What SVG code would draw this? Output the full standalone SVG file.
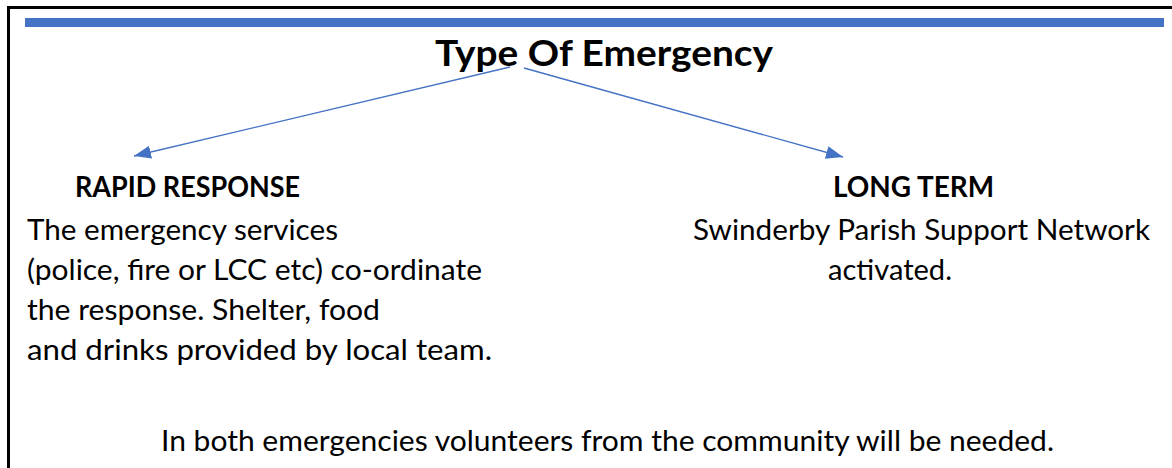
<svg xmlns="http://www.w3.org/2000/svg" width="1172" height="468" viewBox="0 0 1172 468">
  <style>
    .t { font-family: Lato, "Open Sans", "Liberation Sans", sans-serif; fill: #000; }
    .b { font-weight: bold; }
    .body { font-size: 29px; }
    .head { font-size: 29px; }
    .title { font-size: 37px; }
    .conn { stroke: #4472C4; stroke-width: 1.3; fill: none; marker-end: url(#ah); }
  </style>
  <defs>
    <marker id="ah" markerUnits="userSpaceOnUse" markerWidth="18" markerHeight="14" refX="17" refY="6.5" orient="auto">
      <path d="M0,0 L17,6.5 L0,13 z" fill="#4472C4"/>
    </marker>
  </defs>
  <rect width="1172" height="468" fill="#fff"/>
  <path d="M8.5,468 V7.5 H1172" fill="none" stroke="#000" stroke-width="3"/>
  <rect x="25" y="18" width="1139" height="9" fill="#4472C4"/>

  <g id="title">
    <text class="t b title" x="435" y="66" textLength="338" lengthAdjust="spacingAndGlyphs">Type Of Emergency</text>
  </g>

  <g id="connectors">
    <line class="conn" x1="510" y1="67" x2="134" y2="156"/>
    <line class="conn" x1="524" y1="68" x2="843" y2="157"/>
  </g>

  <g id="rapid-response">
    <text class="t b head" x="75" y="197" textLength="225" lengthAdjust="spacingAndGlyphs">RAPID RESPONSE</text>
    <text class="t body" x="27" y="240" textLength="311" lengthAdjust="spacingAndGlyphs">The emergency services</text>
    <text class="t body" x="27" y="280" textLength="455" lengthAdjust="spacingAndGlyphs">(police, fire or LCC etc) co-ordinate</text>
    <text class="t body" x="27" y="320" textLength="353" lengthAdjust="spacingAndGlyphs">the response. Shelter, food</text>
    <text class="t body" x="27" y="360" textLength="465" lengthAdjust="spacingAndGlyphs">and drinks provided by local team.</text>
  </g>

  <g id="long-term">
    <text class="t b head" x="833" y="197" textLength="161" lengthAdjust="spacingAndGlyphs">LONG TERM</text>
    <text class="t body" x="693" y="240" textLength="457" lengthAdjust="spacingAndGlyphs">Swinderby Parish Support Network</text>
    <text class="t body" x="828" y="280" textLength="124" lengthAdjust="spacingAndGlyphs">activated.</text>
  </g>

  <g id="footer">
    <text class="t body" x="161" y="451" textLength="893" lengthAdjust="spacingAndGlyphs">In both emergencies volunteers from the community will be needed.</text>
  </g>
</svg>
